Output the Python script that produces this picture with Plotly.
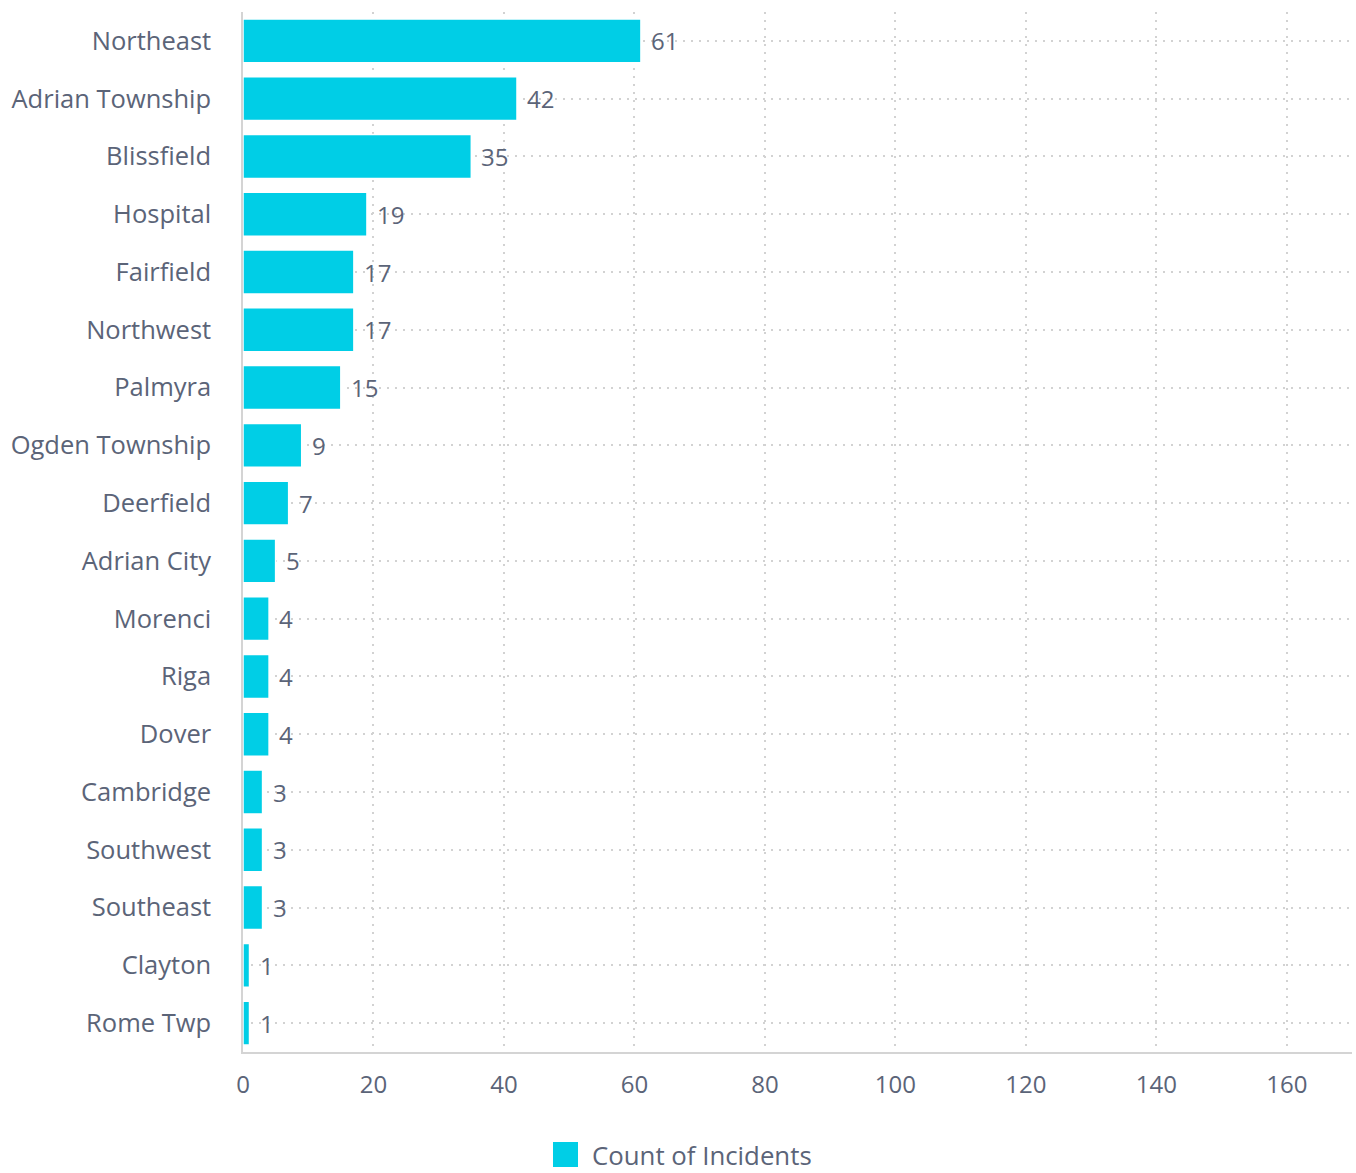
import plotly.graph_objects as go

categories = ["Northeast", "Adrian Township", "Blissfield", "Hospital", "Fairfield",
              "Northwest", "Palmyra", "Ogden Township", "Deerfield", "Adrian City",
              "Morenci", "Riga", "Dover", "Cambridge", "Southwest", "Southeast",
              "Clayton", "Rome Twp"]
counts = [61, 42, 35, 19, 17, 17, 15, 9, 7, 5, 4, 4, 4, 3, 3, 3, 1, 1]
series_name = "Count of Incidents"
x_ticks = [0, 20, 40, 60, 80, 100, 120, 140, 160]

BAR = "#00cee6"
TXT = "#5b6478"
GRID = "#d2d2d2"
FONT = "Open Sans"

# plot area in pixels (for placing the custom legend)
W, H = 1356, 1173
ML, MR, MT, MB = 243, 4, 12, 121
PW, PH = W - ML - MR, H - MT - MB


def px_x(px):
    return (px - ML) / PW


def px_y(py):
    return (H - MB - py) / PH


fig = go.Figure()
fig.add_trace(go.Bar(
    y=categories, x=counts, orientation="h",
    marker=dict(color=BAR, line=dict(width=1.5, color="white")),
    showlegend=False, name=series_name,
))

# value labels next to bar ends
for cat, v in zip(categories, counts):
    fig.add_annotation(x=v, y=cat, xref="x", yref="y", text=str(v),
                       showarrow=False, xanchor="left", yanchor="middle",
                       xshift=8, font=dict(family=FONT, size=24, color=TXT))

# custom legend (large square + label)
fig.add_shape(type="rect", xref="paper", yref="paper",
              x0=px_x(553), x1=px_x(578), y0=px_y(1167), y1=px_y(1142),
              fillcolor=BAR, line=dict(width=0))
fig.add_annotation(x=px_x(590), y=px_y(1155), xref="paper", yref="paper",
                   text=series_name, showarrow=False, xanchor="left",
                   yanchor="middle", font=dict(family=FONT, size=25.8, color=TXT))

fig.update_layout(
    width=W, height=H,
    margin=dict(l=ML, r=MR, t=MT, b=MB),
    paper_bgcolor="white", plot_bgcolor="white",
    font=dict(family=FONT, size=24, color=TXT),
    bargap=0.24,
    showlegend=False,
    xaxis=dict(range=[0, 170], tickvals=x_ticks, showgrid=True,
               gridcolor=GRID, griddash="2px,6px", gridwidth=1.5,
               zeroline=False, showline=True, linecolor="#d4d4d4", linewidth=2,
               ticks="", ticklabelstandoff=10,
               tickfont=dict(family=FONT, size=24, color=TXT)),
    yaxis=dict(categoryorder="array", categoryarray=categories,
               autorange="reversed", showgrid=True,
               gridcolor=GRID, griddash="2px,6px", gridwidth=1.5,
               zeroline=False, showline=True, linecolor="#d4d4d4", linewidth=1.5,
               ticks="", ticklabelstandoff=25,
               tickfont=dict(family=FONT, size=25.5, color=TXT)),
)

fig.write_html("out.html")
